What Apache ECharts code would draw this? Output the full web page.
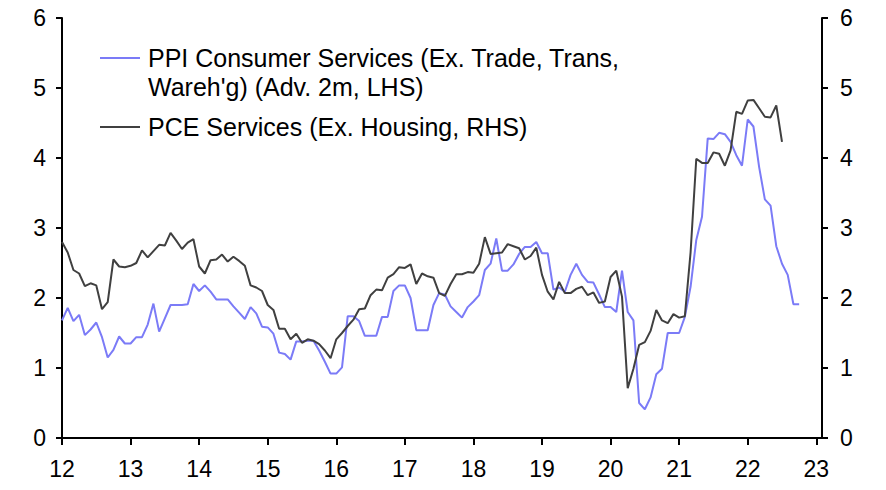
<!DOCTYPE html>
<html>
<head>
<meta charset="utf-8">
<script src="https://cdn.jsdelivr.net/npm/echarts@6/dist/echarts.min.js"></script>
<style>
html,body{margin:0;padding:0;background:#fff;}
#chart{width:886px;height:490px;}
</style>
</head>
<body>
<div id="chart"></div>
<script>
// Monthly data starting Jan 2012 (x = 12 + monthIndex/12)
var startYear = 12;
var xTickLabels = [12,13,14,15,16,17,18,19,20,21,22,23];
var yTickLabels = [0,1,2,3,4,5,6];
var ppiName = "PPI Consumer Services (Ex. Trade, Trans,\nWareh'g) (Adv. 2m, LHS)";
var pceName = "PCE Services (Ex. Housing, RHS)";
var ppiValues = [
 1.68,1.86,1.67,1.76,1.47,1.55,1.65,1.44,1.15,1.26,1.45,1.35,
 1.35,1.44,1.44,1.62,1.92,1.52,1.71,1.90,1.90,1.90,1.91,2.20,
 2.10,2.18,2.09,1.98,1.98,1.98,1.88,1.79,1.70,1.87,1.78,1.59,
 1.58,1.49,1.22,1.20,1.12,1.38,1.38,1.39,1.39,1.25,1.09,0.92,
 0.92,1.01,1.74,1.74,1.67,1.46,1.46,1.46,1.73,1.73,2.10,2.18,
 2.18,2.00,1.54,1.54,1.54,1.90,2.07,2.05,1.88,1.80,1.72,1.87,
 1.95,2.04,2.40,2.49,2.85,2.39,2.39,2.48,2.63,2.73,2.73,2.80,
 2.64,2.64,2.12,2.15,2.09,2.33,2.49,2.33,2.23,2.22,2.05,1.87,
 1.87,1.80,2.39,1.80,1.68,0.50,0.41,0.58,0.91,0.99,1.50,1.50,
 1.50,1.73,2.16,2.83,3.16,4.28,4.27,4.36,4.34,4.23,4.04,3.89,
 4.55,4.45,3.87,3.41,3.32,2.74,2.49,2.33,1.91,1.91
];
var pceValues = [
 2.80,2.65,2.40,2.35,2.17,2.21,2.18,1.84,1.94,2.55,2.45,2.44,
 2.46,2.50,2.68,2.58,2.67,2.76,2.75,2.93,2.82,2.70,2.79,2.84,
 2.45,2.35,2.54,2.55,2.62,2.52,2.59,2.53,2.46,2.18,2.15,2.10,
 1.90,1.83,1.56,1.56,1.41,1.49,1.36,1.41,1.39,1.34,1.25,1.14,
 1.41,1.50,1.60,1.69,1.84,1.85,2.04,2.12,2.11,2.29,2.34,2.44,
 2.43,2.48,2.20,2.35,2.31,2.29,2.07,2.03,2.20,2.34,2.34,2.37,
 2.36,2.49,2.87,2.63,2.64,2.65,2.77,2.74,2.71,2.55,2.60,2.72,
 2.33,2.09,1.98,2.23,2.07,2.07,2.13,2.16,2.04,2.08,1.93,1.95,
 2.30,2.39,2.02,0.71,0.99,1.33,1.37,1.53,1.83,1.68,1.64,1.77,
 1.72,1.74,2.65,3.99,3.93,3.93,4.08,4.06,3.89,4.11,4.66,4.63,
 4.82,4.83,4.71,4.59,4.58,4.75,4.23
];

function toPairs(arr){
  return arr.map(function(v,i){ return [startYear + i/12, v]; });
}

var ppiColor = '#7b7bf7';
var pceColor = '#404040';
var font = 'Liberation Sans, Arial, sans-serif';

var chart = echarts.init(document.getElementById('chart'), null, {renderer:'svg'});
var axisLine = {show:true, onZero:false, lineStyle:{color:'#000', width:2}};
function yAxisDef(pos, margin){
  return {
    type:'value', min:0, max:6, interval:1, position:pos,
    axisLine: axisLine,
    axisTick:{show:true, inside:false, length:6, lineStyle:{color:'#000', width:2}},
    splitLine:{show:false},
    axisLabel:{color:'#000', fontSize:23, fontFamily:font, margin:margin}
  };
}
chart.setOption({
  animation:false,
  backgroundColor:'#fff',
  grid:{left:62, right:64, top:18, bottom:52, containLabel:false},
  xAxis:{
    type:'value', min:startYear, max:startYear + 133/12,
    axisLine: axisLine,
    axisTick:{show:true, length:7, lineStyle:{color:'#000', width:2}, customValues: xTickLabels},
    axisLabel:{color:'#000', fontSize:23, fontFamily:font, margin:19, customValues: xTickLabels,
      formatter:function(v){ return String(Math.round(v)); }},
    splitLine:{show:false}
  },
  yAxis:[ yAxisDef('left', 16), yAxisDef('right', 18) ],
  legend:{show:false},
  graphic:[
    {type:'line', shape:{x1:100,y1:58,x2:140,y2:58}, style:{stroke:ppiColor, lineWidth:2}},
    {type:'text', left:148, top:43, style:{text:ppiName, fill:'#000', font:'25px '+font, lineHeight:29}},
    {type:'line', shape:{x1:100,y1:127,x2:140,y2:127}, style:{stroke:pceColor, lineWidth:2}},
    {type:'text', left:148, top:112, style:{text:pceName, fill:'#000', font:'25px '+font, lineHeight:29}}
  ],
  series:[
    {name:ppiName, type:'line', yAxisIndex:0, data:toPairs(ppiValues), symbol:'none',
     lineStyle:{color:ppiColor, width:2}, itemStyle:{color:ppiColor}, z:2},
    {name:pceName, type:'line', yAxisIndex:1, data:toPairs(pceValues), symbol:'none',
     lineStyle:{color:pceColor, width:2}, itemStyle:{color:pceColor}, z:3}
  ]
});
</script>
</body>
</html>
